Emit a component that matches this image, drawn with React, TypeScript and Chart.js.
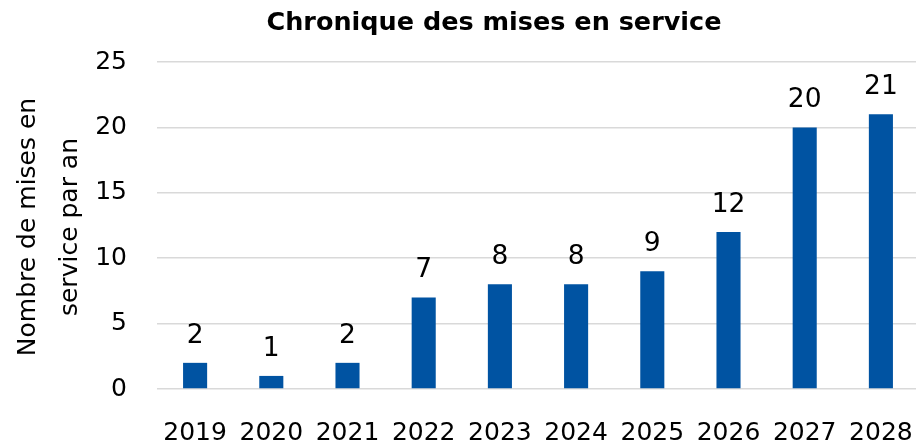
import React, { useEffect, useRef } from "react";
import { Chart, registerables } from "chart.js";

Chart.register(...registerables);

const chartTitle = "Chronique des mises en service";
const yAxisTitle = ["Nombre de mises en", "service par an"];
const years = ["2019", "2020", "2021", "2022", "2023", "2024", "2025", "2026", "2027", "2028"];
const commissioningCounts = [2, 1, 2, 7, 8, 8, 9, 12, 20, 21];
const yTicks = [0, 5, 10, 15, 20, 25];

const FONT = "'DejaVu Sans', 'Liberation Sans', Arial, sans-serif";
const BAR_COLOR = "#0053A2";

const valueLabels = {
  id: "valueLabels",
  afterDatasetsDraw(chart: any) {
    const ctx = chart.ctx as any;
    const meta = chart.getDatasetMeta(0);
    ctx.save();
    ctx.font = `26.5px ${FONT}`;
    ctx.fillStyle = "#000";
    ctx.textAlign = "center";
    ctx.textBaseline = "alphabetic";
    meta.data.forEach((bar: any, i: number) => {
      ctx.fillText(String(commissioningCounts[i]), bar.x, bar.y - 20);
    });
    ctx.restore();
  },
};

const customTitles = {
  id: "customTitles",
  afterDraw(chart: any) {
    const ctx = chart.ctx as any;
    ctx.save();
    ctx.font = `bold 25.5px ${FONT}`;
    ctx.fillStyle = "#000";
    ctx.textAlign = "center";
    ctx.textBaseline = "alphabetic";
    ctx.fillText(chartTitle, 494, 30);
    ctx.restore();

    ctx.save();
    ctx.font = `25px ${FONT}`;
    ctx.fillStyle = "#000";
    ctx.textAlign = "center";
    ctx.textBaseline = "middle";
    const cy = 227;
    const xs = [28, 70];
    yAxisTitle.forEach((line, i) => {
      ctx.save();
      ctx.translate(xs[i], cy);
      ctx.rotate(-Math.PI / 2);
      ctx.fillText(line, 0, 0);
      ctx.restore();
    });
    ctx.restore();
  },
};

export default function App() {
  const ref = useRef<HTMLCanvasElement | null>(null);
  useEffect(() => {
    document.body.style.margin = "0";
    const chart = new Chart(ref.current as HTMLCanvasElement, {
      type: "bar",
      data: {
        labels: years,
        datasets: [
          {
            data: commissioningCounts,
            backgroundColor: BAR_COLOR,
            barPercentage: 0.316,
            categoryPercentage: 1,
          },
        ],
      },
      options: {
        animation: false,
        responsive: false,
        devicePixelRatio: 1,
        layout: { padding: { top: 62, right: 0, left: 0, bottom: 0 } },
        plugins: { legend: { display: false }, tooltip: { enabled: false }, title: { display: false } },
        scales: {
          x: {
            grid: { display: false, drawTicks: true, tickLength: 25 },
            border: { display: false },
            ticks: { color: "#000", font: { family: FONT, size: 25 }, padding: 4, maxRotation: 0, autoSkip: false },
            afterFit(scale: any) {
              scale.height = 55;
            },
          },
          y: {
            min: 0,
            max: 25,
            afterBuildTicks(scale: any) {
              scale.ticks = yTicks.map((v) => ({ value: v }));
            },
            grid: { color: "#d9d9d9", lineWidth: 1.5, drawTicks: false },
            border: { display: false },
            ticks: { color: "#000", font: { family: FONT, size: 25 }, padding: 30 },
            title: { display: false },
            afterFit(scale: any) {
              scale.width = 157;
            },
          },
        },
      },
      plugins: [valueLabels, customTitles],
    });
    return () => chart.destroy();
  }, []);
  return (
    <div style={{ width: 916, height: 444, overflow: "hidden" }}>
      <canvas ref={ref} width={919} height={444} style={{ display: "block" }} />
    </div>
  );
}
